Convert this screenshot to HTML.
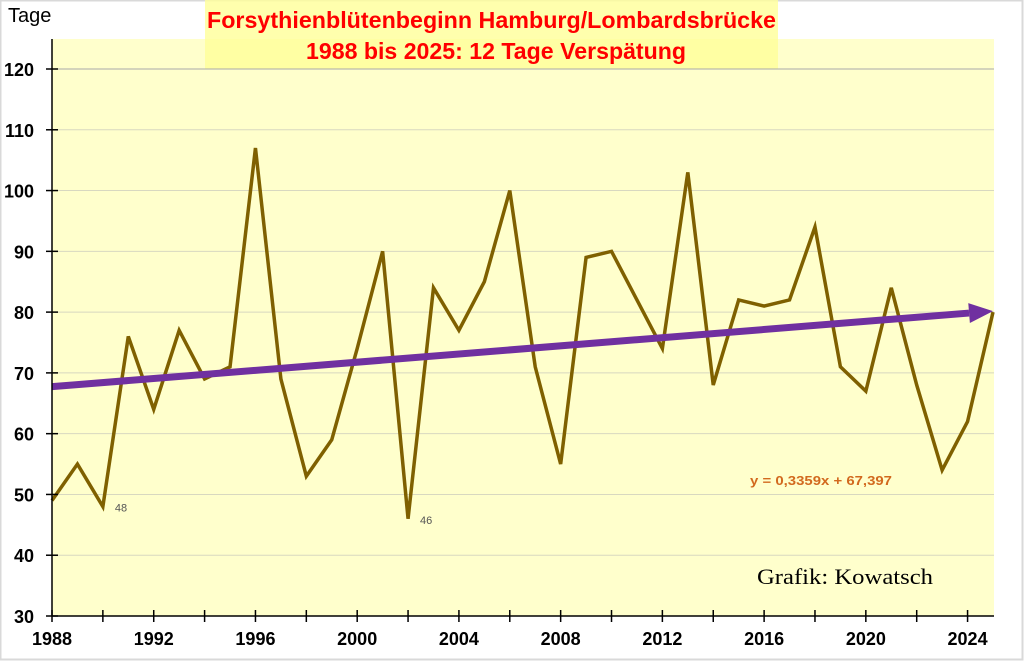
<!DOCTYPE html>
<html><head><meta charset="utf-8"><style>
body{margin:0;background:#fff;}
svg text{font-family:"Liberation Sans",sans-serif;}
</style></head><body>
<svg width="1024" height="661" viewBox="0 0 1024 661" id="chart">
<rect x="0.5" y="0.5" width="1022" height="659" fill="#fff" stroke="#d9d9d9" stroke-width="2"/>
<rect x="52" y="39" width="942" height="577" fill="#ffffcc"/>
<rect x="205" y="0" width="573" height="69" fill="#ffff99" opacity="0.8"/>
<g id="grid"></g>
<text x="207" y="28" textLength="569" lengthAdjust="spacingAndGlyphs" font-size="23" font-weight="bold" fill="#ff0000">Forsythienblütenbeginn Hamburg/Lombardsbrücke</text>
<text x="306" y="59" textLength="380" lengthAdjust="spacingAndGlyphs" font-size="23" font-weight="bold" fill="#ff0000">1988 bis 2025: 12 Tage Verspätung</text>
<text x="8" y="22" font-size="20" fill="#000">Tage</text>
<g id="marks"></g>
<line x1="52" y1="39" x2="52" y2="616" stroke="#000" stroke-width="1.5"/>
<line x1="52" y1="616" x2="994" y2="616" stroke="#000" stroke-width="1.5"/>
<text x="750" y="485" textLength="142" lengthAdjust="spacingAndGlyphs" font-size="13" font-weight="bold" fill="#d2691e">y = 0,3359x + 67,397</text>
<text x="757" y="584" textLength="176" lengthAdjust="spacingAndGlyphs" font-size="22" fill="#000" style="font-family:'Liberation Serif',serif">Grafik: Kowatsch</text>
</svg>
<script>
const years=[1988,1989,1990,1991,1992,1993,1994,1995,1996,1997,1998,1999,2000,2001,2002,2003,2004,2005,2006,2007,2008,2009,2010,2011,2012,2013,2014,2015,2016,2017,2018,2019,2020,2021,2022,2023,2024,2025];
const values=[49,55,48,76,64,77,69,71,107,69,53,59,74,90,46,84,77,85,100,71,55,89,90,82,74,103,68,82,81,82,94,71,67,84,68,54,62,80];
const yTicks=[30,40,50,60,70,80,90,100,110,120];
const xTickLabels=[1988,1992,1996,2000,2004,2008,2012,2016,2020,2024];
const trendSlope=0.3359, trendIntercept=67.397;
const NS="http://www.w3.org/2000/svg";
const X=y=>52+(y-1988)*(941/37);
const Y=v=>616-(v-30)*(547/90);
const grid=document.getElementById('grid'), marks=document.getElementById('marks'), svg=document.getElementById('chart');
function mk(tag,attrs,parent){const e=document.createElementNS(NS,tag);for(const k in attrs)e.setAttribute(k,attrs[k]);parent.appendChild(e);return e;}
yTicks.forEach(t=>{
  if(t>30){const g=mk('line',{x1:52,x2:994,y1:Y(t),y2:Y(t),stroke:t==120?'#aaa':'#d8d8c0','stroke-width':1},grid);
  
  }
  const tk=mk('line',{x1:46,x2:58,y1:Y(t),y2:Y(t),stroke:'#000','stroke-width':1.5},svg);
  
  
  const tx=mk('text',{x:34,y:Y(t)+7,'text-anchor':'end','font-size':18,'font-weight':'bold'},svg);
  tx.textContent=t;
  
  
});
for(let y=1988;y<=2024;y+=2){
  const tk=mk('line',{x1:X(y),x2:X(y),y1:610,y2:622,stroke:'#000','stroke-width':1.5},svg);
  
  
}
xTickLabels.forEach(y=>{
  const tx=mk('text',{x:X(y),y:645,'text-anchor':'middle','font-size':18,'font-weight':'bold'},svg);
  tx.textContent=y;
  
  
});
const pl=mk('polyline',{points:years.map((y,i)=>X(y)+','+Y(values[i])).join(' '),fill:'none',stroke:'#7f6000','stroke-width':3.5,'stroke-linejoin':'miter'},marks);


const t0=trendIntercept+trendSlope*1, t1=trendIntercept+trendSlope*years.length;
const x0=X(1988),y0=Y(t0),x1=X(2025),y1=Y(t1);
const ang=Math.atan2(y1-y0,x1-x0), hl=24;
const bx=x1-hl*Math.cos(ang), by=y1-hl*Math.sin(ang);
const tl=mk('line',{x1:x0,y1:y0,x2:bx,y2:by,stroke:'#7030a0','stroke-width':7},marks);


const px=-Math.sin(ang)*10, py=Math.cos(ang)*10;
const ah=mk('polygon',{points:`${x1},${y1} ${bx+px},${by+py} ${bx-px},${by-py}`,fill:'#7030a0'},marks);


[1990,2002].forEach(yr=>{
  const i=years.indexOf(yr);
  const tx=mk('text',{x:X(yr)+12,y:Y(values[i])+5,'font-size':11,fill:'#555'},svg);
  tx.textContent=values[i];
  
  
});
</script>
</body></html>
